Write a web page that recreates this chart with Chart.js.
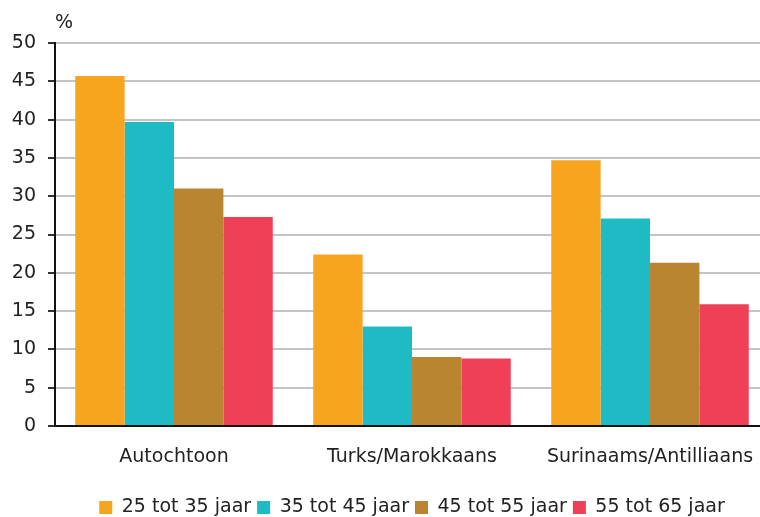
<!DOCTYPE html>
<html>
<head>
<meta charset="utf-8">
<script src="https://cdn.jsdelivr.net/npm/chart.js@4.4.0/dist/chart.umd.min.js"></script>
<style>
  html, body { margin: 0; padding: 0; background: #fff; overflow: hidden; }
  #wrap { width: 760px; height: 517px; overflow: hidden; }
</style>
</head>
<body>
<div id="wrap">
  <canvas id="chart" width="814" height="527" style="width:814px;height:527px"></canvas>
</div>
<script>
// groups on the x axis
const categories = ['Autochtoon', 'Turks/Marokkaans', 'Surinaams/Antilliaans'];

// age groups
const ageLabels = ['25 tot 35 jaar', '35 tot 45 jaar', '45 tot 55 jaar', '55 tot 65 jaar'];
const ageColors = ['#f7a51e', '#1ebbc5', '#b98530', '#ef4057'];

// percentages per age group
const age25to35 = [45.7, 22.4, 34.7];
const age35to45 = [39.7, 13.0, 27.1];
const age45to55 = [31.0, 9.0, 21.3];
const age55to65 = [27.3, 8.8, 15.9];

const yMin = 0;
const yMax = 50;
const yStep = 5;
const unitLabel = '%';

const seriesValues = [age25to35, age35to45, age45to55, age55to65];

const fontFamily = '"DejaVu Sans", sans-serif';

// draws the "%" above the y axis
const unitPlugin = {
    id: 'unitLabel',
    afterDraw(chart) {
        const { ctx, chartArea } = chart;
        ctx.save();
        ctx.font = '19px ' + fontFamily;
        ctx.fillStyle = '#222';
        ctx.textAlign = 'left';
        ctx.textBaseline = 'alphabetic';
        ctx.fillText(unitLabel, chartArea.left, 28);
        ctx.restore();
    }
};

new Chart(document.getElementById('chart').getContext('2d'), {
    type: 'bar',
    data: {
        labels: categories,
        datasets: ageLabels.map((label, i) => ({
            label: label,
            data: seriesValues[i],
            backgroundColor: ageColors[i],
            borderWidth: 0,
            categoryPercentage: 0.83,
            barPercentage: 1.0,
        })),
    },
    options: {
        responsive: false,
        animation: false,
        devicePixelRatio: 1,
        layout: {
            padding: { top: 43, right: 45, left: 0, bottom: 0 },
        },
        plugins: {
            tooltip: { enabled: false },
            legend: {
                position: 'bottom',
                fullSize: false,
                labels: {
                    font: { family: fontFamily, size: 19 },
                    color: '#222',
                    boxWidth: 13,
                    boxHeight: 13,
                    padding: 6,
                },
            },
        },
        scales: {
            x: {
                grid: { display: false, drawTicks: false },
                border: { display: true, color: '#111', width: 2 },
                ticks: {
                    font: { family: fontFamily, size: 19 },
                    color: '#222',
                    padding: 20,
                    maxRotation: 0,
                },
                afterFit(scale) { scale.height = 66; },
            },
            y: {
                min: yMin,
                max: yMax,
                ticks: {
                    stepSize: yStep,
                    font: { family: fontFamily, size: 19 },
                    color: '#222',
                    padding: 12,
                },
                grid: {
                    color: '#c4c4c4',
                    lineWidth: 2,
                    tickLength: 7,
                    tickColor: '#333',
                    tickWidth: 2,
                },
                border: { display: true, color: '#111', width: 2 },
                afterFit(scale) { scale.width = 55; },
            },
        },
    },
    plugins: [unitPlugin],
});
</script>
</body>
</html>
